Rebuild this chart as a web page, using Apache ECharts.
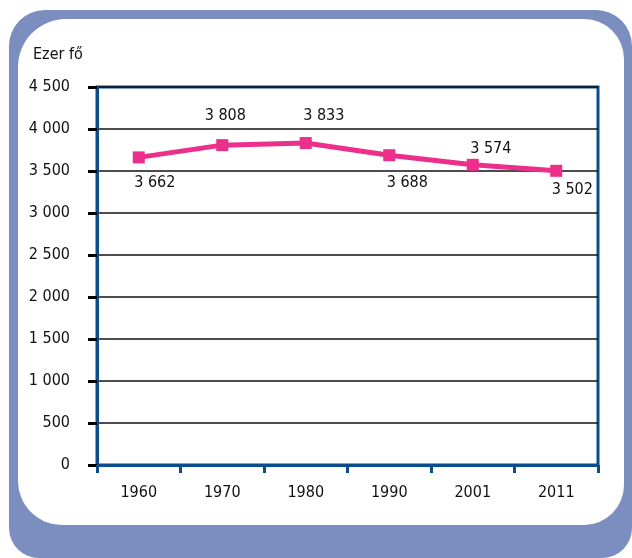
<!DOCTYPE html>
<html>
<head>
<meta charset="utf-8">
<script src="https://cdn.jsdelivr.net/npm/echarts@6/dist/echarts.min.js"></script>
<style>
  html, body { margin: 0; padding: 0; background: #fff; }
  #main { width: 632px; height: 558px; }
</style>
</head>
<body>
<div id="main"></div>
<script>
  // adatok
  var years = ['1960', '1970', '1980', '1990', '2001', '2011'];
  var population = [3662, 3808, 3833, 3688, 3574, 3502];
  // címkék eltolása a pontokhoz képest
  var labelOffsets = [[16, 25], [3, -29], [18, -27], [18, 28], [18, -16], [16, 19]];
  var yTicks = [0, 500, 1000, 1500, 2000, 2500, 3000, 3500, 4000, 4500];

  var FONT = '"Liberation Sans Narrow", "DejaVu Sans Condensed", sans-serif';
  var BLUE = '#0b4c8f';

  function fmt(v) {
    var s = String(v);
    return s.length > 3 ? s.slice(0, s.length - 3) + ' ' + s.slice(-3) : s;
  }

  var chart = echarts.init(document.getElementById('main'));

  var points = population.map(function (v, i) {
    return { value: v, label: { position: 'inside', offset: labelOffsets[i] } };
  });

  var option = {
    animation: false,
    graphic: [
      { type: 'rect', z: -10, shape: { x: 9, y: 10, width: 623, height: 548, r: [36, 36, 30, 30] },
        style: { fill: '#7b8ebf' } },
      { type: 'rect', z: -9, shape: { x: 18, y: 19, width: 606, height: 506, r: [48, 40, 40, 44] },
        style: { fill: '#ffffff' } },
      { type: 'text', left: 33, top: 47,
        style: { text: 'Ezer fő', font: '16px ' + FONT, fill: '#111' } }
    ],
    grid: {
      left: 97, right: 34, top: 87, bottom: 93,
      show: true, borderColor: BLUE, borderWidth: 3, backgroundColor: 'transparent'
    },
    xAxis: {
      type: 'category',
      data: years,
      boundaryGap: true,
      axisLine: { lineStyle: { color: BLUE, width: 3 } },
      axisTick: { show: true, length: 8, lineStyle: { color: BLUE, width: 3 } },
      axisLabel: { color: '#111', fontFamily: FONT, fontSize: 16, margin: 20 }
    },
    yAxis: {
      type: 'value',
      min: yTicks[0],
      max: yTicks[yTicks.length - 1],
      interval: 500,
      axisLine: { show: true, lineStyle: { color: BLUE, width: 3 } },
      axisTick: { show: true, length: 9, lineStyle: { color: '#000', width: 3 } },
      axisLabel: { color: '#111', fontFamily: FONT, fontSize: 16, margin: 27,
        formatter: function (v) { return fmt(v); } },
      splitLine: { show: true, lineStyle: { color: '#111', width: 1.5 } }
    },
    series: [{
      type: 'line',
      data: points,
      symbol: 'rect',
      symbolSize: 12,
      itemStyle: { color: '#ec2f8b' },
      lineStyle: { color: '#ec2f8b', width: 5 },
      label: {
        show: true, color: '#111', fontFamily: FONT, fontSize: 16,
        formatter: function (p) { return fmt(p.value); }
      }
    }]
  };

  chart.setOption(option);
</script>
</body>
</html>
